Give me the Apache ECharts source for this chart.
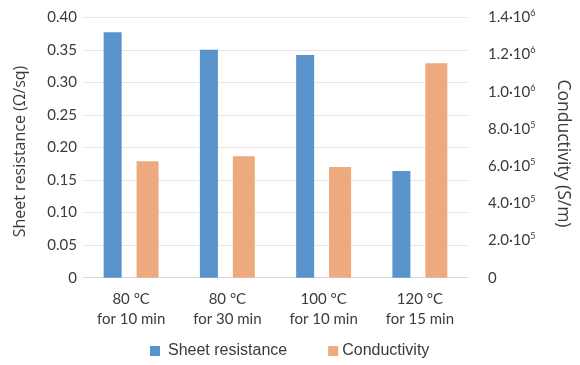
<!DOCTYPE html>
<html>
<head>
<meta charset="utf-8">
<script src="https://cdn.jsdelivr.net/npm/echarts@6/dist/echarts.min.js"></script>
<style>html,body{margin:0;padding:0;background:#fff;}#chart{width:580px;height:365px;}</style>
</head>
<body>
<div id="chart"></div>
<script>
const categories = ['80 °C\nfor 10 min', '80 °C\nfor 30 min', '100 °C\nfor 10 min', '120 °C\nfor 15 min'];
const sheetResistance = [0.377, 0.350, 0.342, 0.164];
const conductivity = [626000, 653000, 595000, 1153000];
const seriesNames = ['Sheet resistance', 'Conductivity'];
const leftAxisName = 'Sheet resistance (Ω/sq)';
const rightAxisName = 'Conductivity (S/m)';

const textColor = '#3b3b3b';
const fontFamily = 'Lato, "Open Sans", sans-serif';
const titleFont = '"Open Sans", Lato, sans-serif';

const chart = echarts.init(document.getElementById('chart'), null, {renderer: 'canvas'});
chart.setOption({
  backgroundColor: '#fff',
  animation: false,
  grid: {left: 83, right: 112, top: 17.3, bottom: 87.3},
  legend: {
    data: [
      {name: seriesNames[0], textStyle: {padding: [0, 0, 0, 3]}},
      {name: seriesNames[1], textStyle: {padding: [0, 0, 0, -1]}}
    ],
    left: 145, top: 338,
    itemWidth: 10, itemHeight: 10, itemGap: 41,
    icon: 'rect',
    textStyle: {color: textColor, fontSize: 16, fontFamily: '"Liberation Sans", Arial, sans-serif'}
  },
  xAxis: {
    type: 'category',
    data: categories,
    axisTick: {show: false},
    axisLine: {lineStyle: {color: '#d9d9d9'}},
    axisLabel: {color: textColor, fontSize: 15, fontFamily: fontFamily, lineHeight: 20, margin: 11}
  },
  yAxis: [{
    type: 'value', min: 0, max: 0.4, interval: 0.05,
    name: leftAxisName, nameLocation: 'middle', nameRotate: 90, nameGap: 55,
    nameTextStyle: {color: textColor, fontSize: 16, fontFamily: titleFont, padding: [0, 8, 0, 0]},
    axisLine: {show: false}, axisTick: {show: false},
    splitLine: {lineStyle: {color: '#e6e6e6'}},
    axisLabel: {color: textColor, fontSize: 15, fontFamily: fontFamily, margin: 6,
      formatter: v => v === 0 ? '0' : v.toFixed(2)}
  }, {
    type: 'value', min: 0, max: 1400000, interval: 200000,
    name: rightAxisName, nameLocation: 'middle', nameRotate: -90, nameGap: 86,
    nameTextStyle: {color: textColor, fontSize: 17.5, fontFamily: titleFont, padding: [0, 0, 0, 12]},
    axisLine: {show: false}, axisTick: {show: false},
    splitLine: {show: false},
    axisLabel: {color: textColor, fontSize: 15, fontFamily: fontFamily, margin: 20,
      formatter: v => {
        if (v === 0) return '0';
        const e = Math.floor(Math.log10(v) + 1e-9);
        const m = v / Math.pow(10, e);
        return '{b|' + m.toFixed(1) + '·10}{s|' + e + '}';
      },
      rich: {
        b: {color: textColor, fontSize: 15, fontFamily: fontFamily},
        s: {color: textColor, fontSize: 9, fontFamily: fontFamily, padding: [0, 0, 8, 0]}
      }
    }
  }],
  series: [{
    name: seriesNames[0], type: 'bar', yAxisIndex: 0,
    data: sheetResistance, barWidth: 18, barGap: '83%',
    itemStyle: {color: '#5894cb'}
  }, {
    name: seriesNames[1], type: 'bar', yAxisIndex: 1,
    data: conductivity, barWidth: 22,
    itemStyle: {color: '#edaa7e'}
  }]
});
</script>
</body>
</html>
